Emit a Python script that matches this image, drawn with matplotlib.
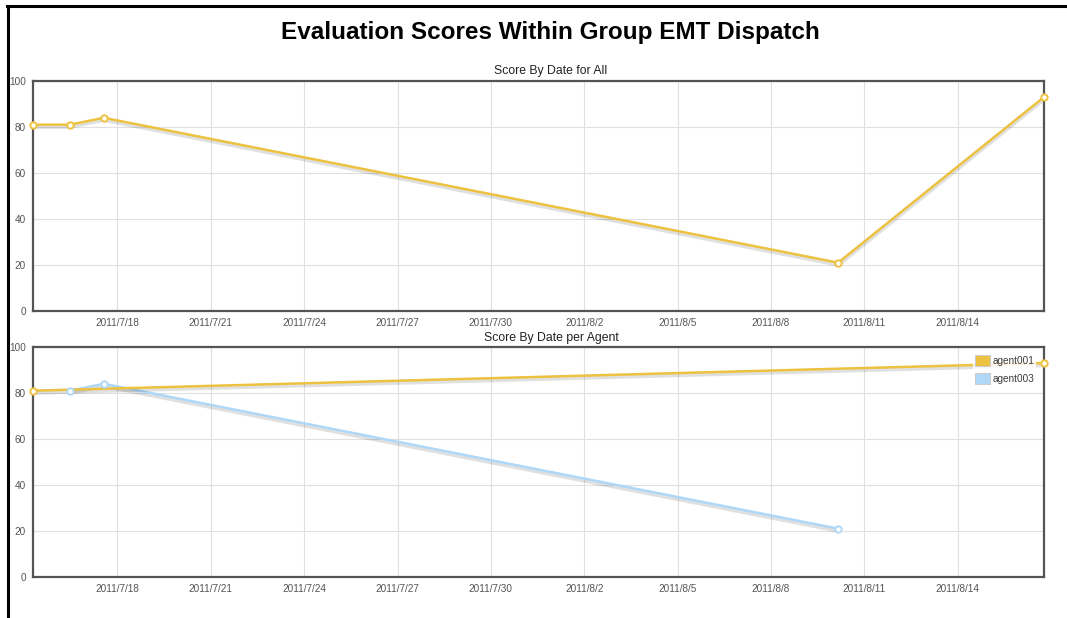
import matplotlib
matplotlib.use("Agg")
import matplotlib.pyplot as plt
import matplotlib.dates as mdates
import matplotlib.patheffects as pe
from matplotlib.patches import Patch
from matplotlib.lines import Line2D
import pandas as pd

plt.rcParams['font.family'] = ['Liberation Sans', 'DejaVu Sans']

# ---- data ----
all_dates = ["2011-07-15 06:50", "2011-07-16 11:10", "2011-07-17 13:25",
             "2011-08-10 03:55", "2011-08-16 18:40"]
all_scores = [81, 81, 84, 21, 93]

agent001_dates = ["2011-07-15 06:50", "2011-08-16 18:40"]
agent001_scores = [81, 93]
agent003_dates = ["2011-07-16 11:10", "2011-07-17 13:25", "2011-08-10 03:55"]
agent003_scores = [81, 84, 21]

series_names = ["agent001", "agent003"]
colors = ["#edc240", "#afd8f8"]

title = "Evaluation Scores Within Group EMT Dispatch"
subtitles = ["Score By Date for All", "Score By Date per Agent"]
tick_dates = ["2011-07-18", "2011-07-21", "2011-07-24", "2011-07-27", "2011-07-30",
              "2011-08-02", "2011-08-05", "2011-08-08", "2011-08-11", "2011-08-14"]
y_ticks = [0, 20, 40, 60, 80, 100]

W, H = 1067, 618
fig = plt.figure(figsize=(W / 100, H / 100), dpi=100)

def px_axes(x0, y0, x1, y1):
    return fig.add_axes([x0 / W, 1 - y1 / H, (x1 - x0) / W, (y1 - y0) / H])

ax1 = px_axes(33, 81, 1044, 311)
ax2 = px_axes(33, 347, 1044, 577)

xmin = pd.Timestamp(all_dates[0])
xmax = pd.Timestamp(all_dates[-1])
ticks = [pd.Timestamp(d) for d in tick_dates]

def fmt(x, pos=None):
    d = mdates.num2date(x)
    return f"{d.year}/{d.month}/{d.day}"

shadow = [pe.SimpleLineShadow(offset=(0, -1.2), shadow_color="#000000", alpha=0.12, linewidth=3.5),
          pe.Normal()]

def style(ax):
    ax.set_xlim(xmin, xmax)
    ax.set_ylim(0, 100)
    ax.set_xticks(ticks)
    ax.xaxis.set_major_formatter(plt.FuncFormatter(fmt))
    ax.set_yticks(y_ticks)
    ax.tick_params(length=0, labelsize=7.2, labelcolor="#545454", pad=5)
    ax.grid(True, color="#e0e0e0", linewidth=0.8)
    ax.set_axisbelow(True)
    for s in ax.spines.values():
        s.set_color("#545454")
        s.set_linewidth(1.6)

def draw(ax, dates, vals, color, z=3):
    x = [pd.Timestamp(d) for d in dates]
    ax.plot(x, vals, color=color, linewidth=1.8, zorder=z, path_effects=shadow,
            clip_on=False)
    ax.plot(x, vals, linestyle="none", marker="o", markersize=4.6,
            markerfacecolor="white", markeredgecolor=color, markeredgewidth=1.4,
            clip_on=False, zorder=6)

style(ax1)
style(ax2)
draw(ax1, all_dates, all_scores, colors[0])
draw(ax2, agent003_dates, agent003_scores, colors[1])
draw(ax2, agent001_dates, agent001_scores, colors[0])

handles = [Patch(facecolor=c, edgecolor="#cccccc", linewidth=0.8) for c in colors]
leg = ax2.legend(handles, series_names, loc="upper right", bbox_to_anchor=(0.9955, 0.985),
                 frameon=True, fontsize=7.2, handlelength=1.5, handleheight=1.2,
                 handletextpad=0.3, labelspacing=0.75, borderaxespad=0.3,
                 borderpad=0.2, fancybox=False, framealpha=0.85,
                 facecolor="white", edgecolor="none",
                 labelcolor="#3a3a3a")
leg.set_zorder(5)

fig.text(550 / W, 1 - 33 / H, title, ha="center", va="center",
         fontsize=17.5, fontweight="bold", color="#000000")
fig.text(551 / W, 1 - 71 / H, subtitles[0], ha="center", va="center",
         fontsize=8.8, color="#222222")
fig.text(551 / W, 1 - 338 / H, subtitles[1], ha="center", va="center",
         fontsize=8.8, color="#222222")

# page border lines (top and left)
fig.add_artist(Line2D([7 / W, 1], [1 - 6 / H, 1 - 6 / H], color="black",
                      linewidth=2.2, transform=fig.transFigure))
fig.add_artist(Line2D([8 / W, 8 / W], [0, 1 - 6 / H], color="black",
                      linewidth=2.2, transform=fig.transFigure))

fig.savefig("out.png", dpi=100)
